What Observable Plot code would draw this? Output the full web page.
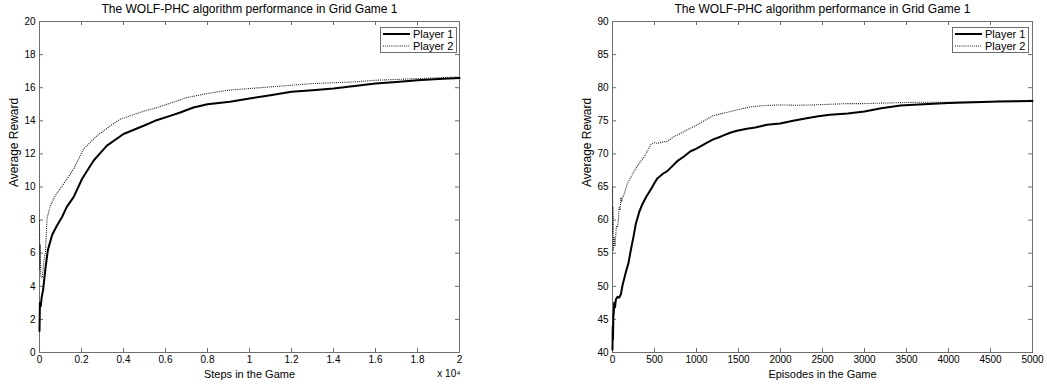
<!DOCTYPE html>
<html>
<head>
<meta charset="utf-8">
<script src="https://cdn.jsdelivr.net/npm/d3@7"></script>
<script src="https://cdn.jsdelivr.net/npm/@observablehq/plot@0.6"></script>
<style>
  html, body { margin: 0; padding: 0; background: #fff; }
  #root { position: relative; width: 1047px; height: 385px; background: #fff; overflow: hidden; }
  .panel { position: absolute; top: 0; }
  .legend {
    position: absolute; background: #fff; border: 1px solid #6e6e6e;
    font-family: "Liberation Sans", Arial, Helvetica, sans-serif; font-size: 11px; color: #000;
    box-sizing: border-box; padding: 0 0 0 2px; white-space: nowrap;
  }
  .legend .row { display: flex; align-items: center; height: 12px; line-height: 12px; }
  .legend svg { margin-right: 3px; flex: none; }
</style>
</head>
<body>
<div id="root"></div>
<script>
// ---- Grid Game 1, reward averaged over steps ----
const titleText = "The WOLF-PHC algorithm performance in Grid Game 1";
const seriesNames = ["Player 1", "Player 2"];

const stepTicks = [0, 2000, 4000, 6000, 8000, 10000, 12000, 14000, 16000, 18000, 20000];
const stepRewardTicks = [0, 2, 4, 6, 8, 10, 12, 14, 16, 18, 20];

const stepsP1 = [0, 20, 60, 100, 174, 285, 400, 600, 800, 1080, 1300, 1630, 2030, 2580, 3210, 4000, 4960, 5500, 6220, 6700, 7330, 8000, 9070, 10000, 11000, 12000, 13000, 14000, 15000, 16000, 17000, 18000, 19000, 20000];
const rewardP1Steps = [1.3, 3.0, 2.8, 3.3, 3.8, 5.1, 6.2, 7.1, 7.6, 8.2, 8.8, 9.4, 10.5, 11.6, 12.5, 13.2, 13.7, 14.0, 14.3, 14.5, 14.8, 15.0, 15.15, 15.35, 15.55, 15.75, 15.85, 15.95, 16.1, 16.25, 16.35, 16.45, 16.52, 16.58];

const stepsP2 = [0, 10, 30, 60, 130, 200, 285, 360, 520, 760, 1160, 1630, 2100, 2740, 3370, 3850, 4320, 5000, 5590, 6540, 7000, 8000, 9000, 10000, 11000, 12000, 13000, 14000, 15000, 16000, 17000, 18000, 19000, 20000];
const rewardP2Steps = [8.0, 5.0, 6.5, 4.6, 4.5, 5.4, 6.1, 8.1, 8.9, 9.5, 10.2, 11.1, 12.3, 13.1, 13.7, 14.1, 14.3, 14.6, 14.8, 15.2, 15.4, 15.65, 15.85, 15.95, 16.05, 16.15, 16.25, 16.3, 16.35, 16.45, 16.5, 16.55, 16.6, 16.65];

// ---- Grid Game 1, reward averaged over episodes ----
const episodeTicks = [0, 500, 1000, 1500, 2000, 2500, 3000, 3500, 4000, 4500, 5000];
const episodeRewardTicks = [40, 45, 50, 55, 60, 65, 70, 75, 80, 85, 90];

const episodesP1 = [0, 3, 6, 10, 15, 20, 30, 40, 60, 80, 100, 120, 160, 190, 217, 250, 277, 320, 356, 400, 455, 500, 534, 600, 652, 700, 771, 850, 929, 1000, 1126, 1200, 1285, 1400, 1482, 1600, 1700, 1838, 1996, 2150, 2312, 2450, 2589, 2800, 3000, 3200, 3428, 3700, 4000, 4300, 4600, 5000];
const rewardP1Episodes = [40.4, 44, 42, 45.5, 46, 47.5, 46.8, 48, 48.4, 48.3, 48.8, 50.2, 52.2, 53.5, 55.4, 57.5, 59.4, 61.3, 62.4, 63.5, 64.6, 65.6, 66.3, 67, 67.4, 68, 68.9, 69.6, 70.4, 70.8, 71.7, 72.2, 72.6, 73.2, 73.5, 73.8, 74, 74.4, 74.6, 75, 75.4, 75.7, 75.9, 76.1, 76.4, 76.9, 77.3, 77.5, 77.7, 77.8, 77.9, 78];

const episodesP2 = [0, 3, 6, 10, 15, 20, 30, 45, 59, 70, 79, 90, 99, 110, 119, 140, 178, 220, 257, 300, 336, 380, 415, 455, 500, 534, 600, 652, 730, 810, 900, 1008, 1100, 1206, 1300, 1403, 1500, 1640, 1800, 1996, 2200, 2391, 2600, 2800, 3000, 3300, 3600, 4000, 4500, 5000];
const rewardP2Episodes = [65, 58, 62, 55.5, 57, 57.4, 56, 59, 58.9, 60, 61.9, 61.5, 63.4, 62.8, 63.4, 64, 65.6, 66.5, 67.4, 68.2, 68.9, 69.6, 70.4, 71.4, 71.7, 71.6, 71.8, 71.9, 72.6, 73.1, 73.7, 74.4, 75.1, 75.8, 76.1, 76.4, 76.7, 77.1, 77.3, 77.4, 77.35, 77.4, 77.5, 77.6, 77.6, 77.7, 77.8, 77.8, 77.9, 78.1];

// ---- drawing ----
const FONT = '"Liberation Sans", Arial, Helvetica, sans-serif';
const AXIS = "#6e6e6e";
const DOTTED = "#1a1a1a";
const H = 385, MT = 21, MB = 33, TICK = 4;
const frameH = H - MT - MB;

const zip = (xs, ys) => xs.map((x, i) => ({x, y: ys[i]}));

function panel({width, marginLeft, marginRight, xDomain, yDomain, xTicks, yTicks, xFormat, xLabel, p1, p2, exponent}) {
  const frameW = width - marginLeft - marginRight;
  const marks = [
    Plot.frame({stroke: AXIS}),
    // inward ticks on all four sides of the box
    Plot.tickX(xTicks, {x: d => d, stroke: AXIS, insetTop: frameH - TICK}),
    Plot.tickX(xTicks, {x: d => d, stroke: AXIS, insetBottom: frameH - TICK}),
    Plot.tickY(yTicks, {y: d => d, stroke: AXIS, insetRight: frameW - TICK}),
    Plot.tickY(yTicks, {y: d => d, stroke: AXIS, insetLeft: frameW - TICK}),
    Plot.axisX(xTicks, {tickSize: 0, tickPadding: 3, tickFormat: xFormat, fontSize: 10, fill: "#000", label: null}),
    Plot.axisY(yTicks, {tickSize: 0, tickPadding: 4, fontSize: 10, fill: "#000", label: null}),
    // axis titles
    Plot.text([xLabel], {frameAnchor: "bottom", dy: 22, lineAnchor: "middle", fontSize: 11, fill: "#000"}),
    Plot.text(["Average Reward"], {frameAnchor: "left", dx: -25, rotate: -90, lineAnchor: "middle", fontSize: 12, fill: "#000"}),
    Plot.line(p2, {x: "x", y: "y", stroke: DOTTED, strokeWidth: 1.1, strokeDasharray: "1,1.1", strokeLinecap: "butt"}),
    Plot.line(p1, {x: "x", y: "y", stroke: "#000", strokeWidth: 2}),
    Plot.text([titleText], {frameAnchor: "top", dy: -12, lineAnchor: "middle", fontSize: 12, fill: "#000"})
  ];
  if (exponent) {
    marks.push(Plot.text([exponent], {frameAnchor: "bottom-right", textAnchor: "end", lineAnchor: "middle", dy: 21, dx: 1, fontSize: 10, fill: "#000"}));
  }
  return Plot.plot({
    width, height: H, marginLeft, marginRight, marginTop: MT, marginBottom: MB,
    style: {fontFamily: FONT, fontSize: "10px", color: "#000", background: "transparent", overflow: "visible"},
    x: {domain: xDomain},
    y: {domain: yDomain},
    marks
  });
}

function legend(left, top) {
  const box = document.createElement("div");
  box.className = "legend";
  box.style.left = left + "px";
  box.style.top = top + "px";
  box.style.width = "77px";
  box.style.height = "26px";
  seriesNames.forEach((name, i) => {
    const row = document.createElement("div");
    row.className = "row";
    const dash = i === 0 ? "" : ' stroke-dasharray="1,1.1"';
    const sw = i === 0 ? 2 : 1.1;
    const col = i === 0 ? "#000" : DOTTED;
    row.innerHTML = `<svg width="27" height="6"><line x1="0" x2="27" y1="3" y2="3" stroke="${col}" stroke-width="${sw}"${dash}/></svg><span>${name}</span>`;
    box.appendChild(row);
  });
  return box;
}

const root = document.getElementById("root");

const left = panel({
  width: 523, marginLeft: 39, marginRight: 64,
  xDomain: [0, 20000], yDomain: [0, 20],
  xTicks: stepTicks, yTicks: stepRewardTicks,
  xFormat: d => String(d / 1e4), xLabel: "Steps in the Game",
  p1: zip(stepsP1, rewardP1Steps), p2: zip(stepsP2, rewardP2Steps),
  exponent: "x 10\u2074"
});
left.classList.add("panel");
left.style.left = "0px";
root.appendChild(left);

const right = panel({
  width: 524, marginLeft: 89, marginRight: 15,
  xDomain: [0, 5000], yDomain: [40, 90],
  xTicks: episodeTicks, yTicks: episodeRewardTicks,
  xFormat: d => String(d), xLabel: "Episodes in the Game",
  p1: zip(episodesP1, rewardP1Episodes), p2: zip(episodesP2, rewardP2Episodes)
});
right.classList.add("panel");
right.style.left = "523px";
root.appendChild(right);

root.appendChild(legend(380, 27));
root.appendChild(legend(952, 27));
</script>
</body>
</html>
